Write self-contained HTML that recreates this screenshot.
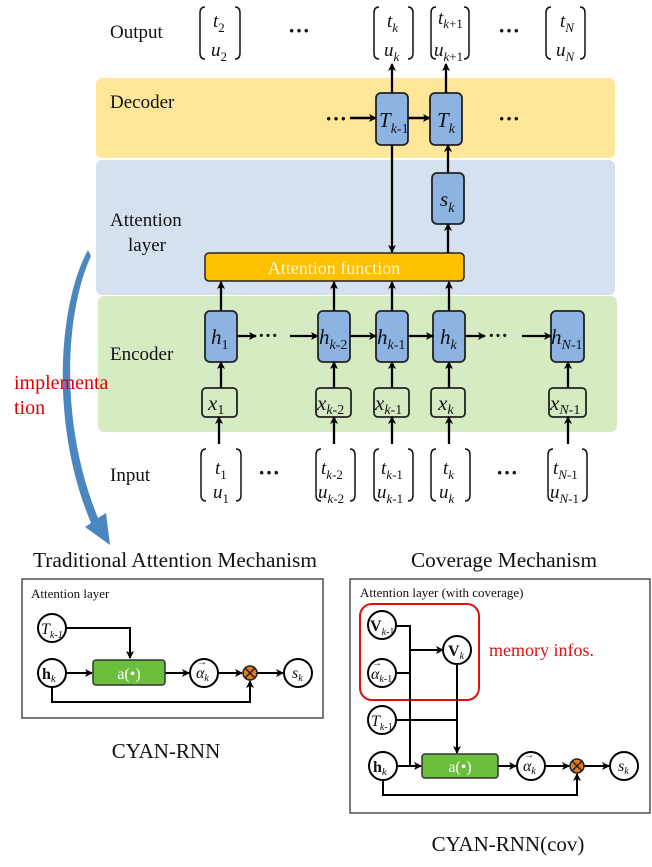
<!DOCTYPE html>
<html><head><meta charset="utf-8"><style>
html,body{margin:0;padding:0;background:#fff;}
svg{display:block;}
text{font-family:"Liberation Serif",serif;fill:#111;}
.i{font-style:italic;}
</style></head><body>
<svg width="652" height="867" viewBox="0 0 652 867" xmlns="http://www.w3.org/2000/svg">
<defs>
<marker id="a" markerWidth="8" markerHeight="8" refX="7" refY="4" orient="auto" markerUnits="userSpaceOnUse"><path d="M0,0 L8,4 L0,8 L2,4 z" fill="#000"/></marker>
</defs>
<rect x="96" y="78" width="519" height="80" rx="6" fill="#FFE699"/>
<rect x="96" y="160" width="519" height="135" rx="6" fill="#D6E1F0"/>
<rect x="98" y="296" width="519" height="136" rx="6" fill="#D6EBC2"/>
<text x="110" y="38" font-size="19">Output</text>
<text x="110" y="108" font-size="19">Decoder</text>
<text x="110" y="226" font-size="19">Attention</text>
<text x="128" y="251" font-size="19">layer</text>
<text x="110" y="360" font-size="19">Encoder</text>
<text x="110" y="481" font-size="19">Input</text>
<g fill="none" stroke="#111" stroke-width="1.5">
<path d="M205,7 q-5,0 -5,6 v40 q0,6 5,6 M235,7 q5,0 5,6 v40 q0,6 -5,6"/>
<path d="M379,7 q-5,0 -5,6 v40 q0,6 5,6 M408,7 q5,0 5,6 v40 q0,6 -5,6"/>
<path d="M436,7 q-5,0 -5,6 v40 q0,6 5,6 M464,7 q5,0 5,6 v40 q0,6 -5,6"/>
<path d="M551,7 q-5,0 -5,6 v40 q0,6 5,6 M580,7 q5,0 5,6 v40 q0,6 -5,6"/>
<path d="M206,449 q-5,0 -5,6 v40 q0,6 5,6 M236,449 q5,0 5,6 v40 q0,6 -5,6"/>
<path d="M321,449 q-5,0 -5,6 v40 q0,6 5,6 M350,449 q5,0 5,6 v40 q0,6 -5,6"/>
<path d="M379,449 q-5,0 -5,6 v40 q0,6 5,6 M408,449 q5,0 5,6 v40 q0,6 -5,6"/>
<path d="M436,449 q-5,0 -5,6 v40 q0,6 5,6 M465,449 q5,0 5,6 v40 q0,6 -5,6"/>
<path d="M553,449 q-5,0 -5,6 v40 q0,6 5,6 M582,449 q5,0 5,6 v40 q0,6 -5,6"/>
</g>
<g font-size="19" class="i">
<text x="213" y="27" class="i">t<tspan font-size="13" dy="5" font-style="normal">2</tspan></text>
<text x="211" y="56" class="i">u<tspan font-size="13" dy="5" font-style="normal">2</tspan></text>
<text x="387" y="27" class="i">t<tspan font-size="13" dy="5">k</tspan></text>
<text x="384" y="56" class="i">u<tspan font-size="13" dy="5">k</tspan></text>
<text x="438" y="24" class="i">t<tspan font-size="13" dy="4">k</tspan><tspan font-size="13" font-style="normal">+1</tspan></text>
<text x="434" y="56" class="i">u<tspan font-size="13" dy="5">k</tspan><tspan font-size="13" font-style="normal">+1</tspan></text>
<text x="560" y="27" class="i">t<tspan font-size="13" dy="5">N</tspan></text>
<text x="556" y="56" class="i">u<tspan font-size="13" dy="5">N</tspan></text>
<text x="215" y="474" class="i">t<tspan font-size="13" dy="5" font-style="normal">1</tspan></text>
<text x="213" y="498" class="i">u<tspan font-size="13" dy="5" font-style="normal">1</tspan></text>
<text x="321" y="474" class="i">t<tspan font-size="13" dy="5">k</tspan><tspan font-size="13" font-style="normal">-2</tspan></text>
<text x="318" y="498" class="i">u<tspan font-size="13" dy="5">k</tspan><tspan font-size="13" font-style="normal">-2</tspan></text>
<text x="381" y="474" class="i">t<tspan font-size="13" dy="5">k</tspan><tspan font-size="13" font-style="normal">-1</tspan></text>
<text x="377" y="498" class="i">u<tspan font-size="13" dy="5">k</tspan><tspan font-size="13" font-style="normal">-1</tspan></text>
<text x="443" y="474" class="i">t<tspan font-size="13" dy="5">k</tspan></text>
<text x="439" y="498" class="i">u<tspan font-size="13" dy="5">k</tspan></text>
<text x="553" y="474" class="i">t<tspan font-size="13" dy="5">N</tspan><tspan font-size="13" font-style="normal">-1</tspan></text>
<text x="550" y="498" class="i">u<tspan font-size="13" dy="5">N</tspan><tspan font-size="13" font-style="normal">-1</tspan></text>
</g>
<g font-size="22" font-weight="bold">
<text x="288" y="38">···</text><text x="498" y="38">···</text>
<text x="498" y="126">···</text>
<text x="258" y="480">···</text><text x="496" y="480">···</text>
</g>
<text x="325" y="126" font-size="22" font-weight="bold">···</text>
<line x1="350" y1="118" x2="376" y2="118" stroke="#000" stroke-width="2.5" marker-end="url(#a)"/>
<line x1="408" y1="118" x2="430" y2="118" stroke="#000" stroke-width="2.5" marker-end="url(#a)"/>
<g fill="#8DB3E2" stroke="#222" stroke-width="1.8">
<rect x="376" y="93" width="32" height="52" rx="5"/>
<rect x="430" y="93" width="32" height="52" rx="5"/>
<rect x="432" y="173" width="32" height="51" rx="5"/>
<rect x="205" y="311" width="32" height="51" rx="5"/>
<rect x="318" y="311" width="32" height="51" rx="5"/>
<rect x="376" y="311" width="32" height="51" rx="5"/>
<rect x="433" y="311" width="32" height="51" rx="5"/>
<rect x="551" y="311" width="33" height="51" rx="5"/>
</g>
<rect x="205" y="253" width="259" height="28" rx="4" fill="#FFC000" stroke="#222" stroke-width="1.5"/>
<text x="334" y="274" font-size="18" text-anchor="middle" style="fill:#FFF6D0">Attention function</text>
<g fill="#D6EBC2" stroke="#222" stroke-width="1.8">
<rect x="202" y="388" width="35" height="29" rx="4"/>
<rect x="316" y="388" width="35" height="29" rx="4"/>
<rect x="374" y="388" width="35" height="29" rx="4"/>
<rect x="431" y="388" width="34" height="29" rx="4"/>
<rect x="549" y="388" width="37" height="29" rx="4"/>
</g>
<g font-size="21" class="i">
<text x="379" y="127">T<tspan font-size="14" dy="6">k</tspan><tspan font-size="14" font-style="normal">-1</tspan></text>
<text x="437" y="127">T<tspan font-size="14" dy="6">k</tspan></text>
<text x="440" y="206">s<tspan font-size="14" dy="6">k</tspan></text>
<text x="211" y="344">h<tspan font-size="14" dy="5" font-style="normal">1</tspan></text>
<text x="319" y="344">h<tspan font-size="14" dy="5">k</tspan><tspan font-size="14" font-style="normal">-2</tspan></text>
<text x="377" y="344">h<tspan font-size="14" dy="5">k</tspan><tspan font-size="14" font-style="normal">-1</tspan></text>
<text x="440" y="344">h<tspan font-size="14" dy="5">k</tspan></text>
<text x="551" y="344">h<tspan font-size="14" dy="5">N</tspan><tspan font-size="14" font-style="normal">-1</tspan></text>
<text x="208" y="410">x<tspan font-size="14" dy="4" font-style="normal">1</tspan></text>
<text x="317" y="410">x<tspan font-size="14" dy="4">k</tspan><tspan font-size="14" font-style="normal">-2</tspan></text>
<text x="375" y="410">x<tspan font-size="14" dy="4">k</tspan><tspan font-size="14" font-style="normal">-1</tspan></text>
<text x="438" y="410">x<tspan font-size="14" dy="4">k</tspan></text>
<text x="550" y="410">x<tspan font-size="14" dy="4">N</tspan><tspan font-size="14" font-style="normal">-1</tspan></text>
</g>
<g stroke="#000" stroke-width="2.3" marker-end="url(#a)">
<line x1="392" y1="93" x2="392" y2="64"/>
<line x1="446" y1="93" x2="446" y2="64"/>
<line x1="392" y1="145" x2="392" y2="252"/>
<line x1="448" y1="173" x2="448" y2="145"/>
<line x1="448" y1="253" x2="448" y2="224"/>
<line x1="221" y1="311" x2="221" y2="282"/>
<line x1="334" y1="311" x2="334" y2="282"/>
<line x1="392" y1="311" x2="392" y2="282"/>
<line x1="449" y1="311" x2="449" y2="282"/>
<line x1="221" y1="388" x2="221" y2="362"/>
<line x1="334" y1="388" x2="334" y2="362"/>
<line x1="392" y1="388" x2="392" y2="362"/>
<line x1="449" y1="388" x2="449" y2="362"/>
<line x1="568" y1="388" x2="568" y2="362"/>
<line x1="219" y1="444" x2="219" y2="417"/>
<line x1="334" y1="444" x2="334" y2="417"/>
<line x1="392" y1="444" x2="392" y2="417"/>
<line x1="449" y1="444" x2="449" y2="417"/>
<line x1="568" y1="444" x2="568" y2="417"/>
<line x1="237" y1="336" x2="256" y2="336"/>
<line x1="290" y1="336" x2="318" y2="336"/>
<line x1="350" y1="336" x2="376" y2="336"/>
<line x1="408" y1="336" x2="433" y2="336"/>
<line x1="465" y1="336" x2="485" y2="336"/>
<line x1="522" y1="336" x2="551" y2="336"/>
</g>
<g font-size="20" font-weight="bold"><text x="258" y="342">···</text><text x="488" y="342">···</text></g>
<path d="M88,250 C60,300 48,420 91,523 L85,527 L110,545 L106,513 L98,518 C58,420 66,310 91,256 Z" fill="#4A86C0"/>
<text x="14" y="389" font-size="20" style="fill:#E00000">implementa</text>
<text x="14" y="414" font-size="20" style="fill:#E00000">tion</text>
<text x="175" y="567" font-size="21" text-anchor="middle" textLength="284" lengthAdjust="spacingAndGlyphs">Traditional Attention Mechanism</text>
<text x="504" y="567" font-size="21" text-anchor="middle" textLength="186" lengthAdjust="spacingAndGlyphs">Coverage Mechanism</text>
<rect x="22" y="579" width="301" height="139" fill="none" stroke="#333" stroke-width="1.3"/>
<text x="31" y="598" font-size="13">Attention layer</text>
<text x="166" y="758" font-size="21" text-anchor="middle">CYAN-RNN</text>
<g stroke="#000" stroke-width="2" fill="none">
<polyline points="66,628 130,628 130,658" marker-end="url(#a)"/>
<line x1="66" y1="673" x2="92" y2="673" marker-end="url(#a)"/>
<line x1="165" y1="673" x2="189" y2="673" marker-end="url(#a)"/>
<line x1="218" y1="673" x2="242" y2="673" marker-end="url(#a)"/>
<line x1="257" y1="673" x2="283" y2="673" marker-end="url(#a)"/>
<polyline points="52,687 52,702 250,702 250,681" marker-end="url(#a)"/>
</g>
<g fill="#fff" stroke="#000" stroke-width="2">
<circle cx="52" cy="628" r="14"/><circle cx="52" cy="673" r="14"/>
<circle cx="204" cy="673" r="14"/><circle cx="298" cy="673" r="14"/>
</g>
<rect x="93" y="660" width="72" height="25" rx="3" fill="#6CBF3C" stroke="#333" stroke-width="1.5"/>
<text x="129" y="679" font-size="16" text-anchor="middle" style="fill:#fff">a(•)</text>
<circle cx="250" cy="673" r="7" fill="#E07A20" stroke="#222" stroke-width="1.5"/>
<path d="M245,668 l10,10 M255,668 l-10,10" stroke="#222" stroke-width="1.5"/>
<g font-size="16">
<text x="41" y="634" class="i">T<tspan font-size="10" dy="4">k</tspan><tspan font-size="10">-1</tspan></text>
<text x="42" y="679" font-weight="bold">h<tspan font-size="11" dy="3" class="i" font-weight="normal">k</tspan></text>
<text x="196" y="678" class="i">α<tspan font-size="10" dy="3">k</tspan></text>
<text x="197" y="665" font-size="10">→</text>
<text x="292" y="678" class="i">s<tspan font-size="10" dy="3">k</tspan></text>
</g>
<rect x="350" y="579" width="300" height="234" fill="none" stroke="#333" stroke-width="1.3"/>
<text x="360" y="597" font-size="13">Attention layer (with coverage)</text>
<rect x="360" y="604" width="119" height="96" rx="12" fill="none" stroke="#E01010" stroke-width="2"/>
<text x="489" y="656" font-size="18" style="fill:#E01010">memory infos.</text>
<text x="508" y="851" font-size="21" text-anchor="middle">CYAN-RNN(cov)</text>
<g stroke="#000" stroke-width="2" fill="none">
<polyline points="396,626 410,626 410,766 421,766" marker-end="url(#a)"/>
<line x1="396" y1="673" x2="410" y2="673"/>
<line x1="410" y1="650" x2="443" y2="650" marker-end="url(#a)"/>
<line x1="457" y1="664" x2="457" y2="753" marker-end="url(#a)"/>
<line x1="396" y1="720" x2="457" y2="720"/>
<line x1="396" y1="766" x2="410" y2="766"/>
<line x1="498" y1="766" x2="516" y2="766" marker-end="url(#a)"/>
<line x1="545" y1="766" x2="569" y2="766" marker-end="url(#a)"/>
<line x1="584" y1="766" x2="609" y2="766" marker-end="url(#a)"/>
<polyline points="383,780 383,795 577,795 577,774" marker-end="url(#a)"/>
</g>
<g fill="#fff" stroke="#000" stroke-width="2">
<circle cx="382" cy="625" r="14"/><circle cx="382" cy="673" r="14"/>
<circle cx="457" cy="650" r="14"/><circle cx="382" cy="720" r="14"/>
<circle cx="383" cy="766" r="14"/><circle cx="531" cy="766" r="14"/>
<circle cx="624" cy="766" r="14"/>
</g>
<rect x="422" y="754" width="76" height="24" rx="3" fill="#6CBF3C" stroke="#333" stroke-width="1.5"/>
<text x="460" y="772" font-size="16" text-anchor="middle" style="fill:#fff">a(•)</text>
<circle cx="577" cy="766" r="7" fill="#E07A20" stroke="#222" stroke-width="1.5"/>
<path d="M572,761 l10,10 M582,761 l-10,10" stroke="#222" stroke-width="1.5"/>
<g font-size="16">
<text x="370" y="631" font-weight="bold">V<tspan font-size="10" dy="4" class="i" font-weight="normal">k</tspan><tspan font-size="10" font-weight="normal">-1</tspan></text>
<text x="371" y="679" class="i">α<tspan font-size="10" dy="3">k</tspan><tspan font-size="10" font-style="normal">-1</tspan></text>
<text x="372" y="666" font-size="10">→</text>
<text x="448" y="656" font-weight="bold">V<tspan font-size="10" dy="3" class="i" font-weight="normal">k</tspan></text>
<text x="371" y="726" class="i">T<tspan font-size="10" dy="4">k</tspan><tspan font-size="10" font-style="normal">-1</tspan></text>
<text x="373" y="772" font-weight="bold">h<tspan font-size="11" dy="3" class="i" font-weight="normal">k</tspan></text>
<text x="523" y="771" class="i">α<tspan font-size="10" dy="3">k</tspan></text>
<text x="524" y="758" font-size="10">→</text>
<text x="618" y="771" class="i">s<tspan font-size="10" dy="3">k</tspan></text>
</g>
</svg>
</body></html>
